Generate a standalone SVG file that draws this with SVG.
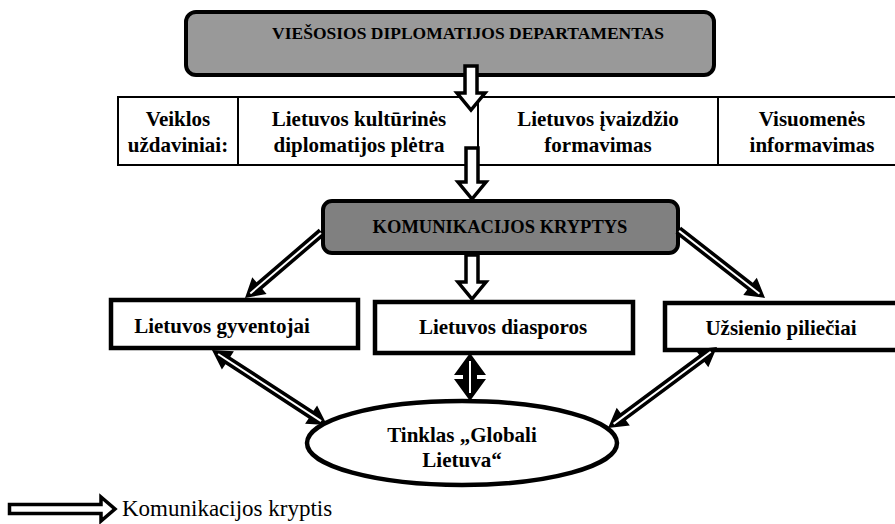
<svg xmlns="http://www.w3.org/2000/svg" width="895" height="524" viewBox="0 0 895 524">
<style>
.t{font-family:"Liberation Serif","Times New Roman",serif;font-weight:bold;font-size:21px;fill:#000;text-anchor:middle}
.h{font-size:17.5px}
.k{font-size:18.5px}
.box{fill:#fff;stroke:#000;stroke-width:4.5}
.cell{fill:#fff;stroke:#000;stroke-width:2}
.hollow{fill:#fff;stroke:#000;stroke-width:3.5;stroke-linejoin:miter}
.solid{fill:#000}
.wl{stroke:#fff;stroke-width:2}
.leg{font-family:"Liberation Serif","Times New Roman",serif;font-size:23px;fill:#000}
</style>
<rect width="895" height="524" fill="#fff"/>
<g id="dept">
<rect x="186" y="12" width="528" height="63" rx="10" fill="#999" stroke="#000" stroke-width="4"/>
<text class="t h" x="468" y="39">VIEŠOSIOS DIPLOMATIJOS DEPARTAMENTAS</text>
</g>
<g id="task-label">
<rect class="cell" x="118" y="97" width="120" height="68"/>
<text class="t" x="178" y="126">Veiklos</text>
<text class="t" x="178" y="152">uždaviniai:</text>
</g>
<g id="task-culture">
<rect class="cell" x="238" y="97" width="240" height="68"/>
<text class="t" x="359" y="126">Lietuvos kultūrinės</text>
<text class="t" x="359" y="152">diplomatijos plėtra</text>
</g>
<g id="task-image">
<rect class="cell" x="478" y="97" width="240" height="68"/>
<text class="t" x="598" y="126">Lietuvos įvaizdžio</text>
<text class="t" x="598" y="152">formavimas</text>
</g>
<g id="task-info">
<rect class="cell" x="718" y="97" width="190" height="68"/>
<text class="t" x="812" y="126">Visuomenės</text>
<text class="t" x="812" y="152">informavimas</text>
</g>
<g id="kryptys">
<rect x="323" y="201" width="355" height="52" rx="9" fill="#808080" stroke="#000" stroke-width="4"/>
<text class="t k" x="500" y="233">KOMUNIKACIJOS KRYPTYS</text>
</g>
<g id="gyventojai">
<rect class="box" x="111" y="300" width="247" height="48"/>
<text class="t" x="222" y="333">Lietuvos gyventojai</text>
</g>
<g id="diasporos">
<rect class="box" x="375" y="302" width="258" height="51"/>
<text class="t" x="503" y="334">Lietuvos diasporos</text>
</g>
<g id="piliečiai">
<rect class="box" x="665" y="303" width="240" height="47"/>
<text class="t" x="781" y="335">Užsienio piliečiai</text>
</g>
<g id="globali">
<ellipse cx="462" cy="443" rx="155" ry="42" fill="#fff" stroke="#000" stroke-width="4.5"/>
<text class="t" x="462" y="442">Tinklas „Globali</text>
<text class="t" x="462" y="467">Lietuva“</text>
</g>
<g id="connectors">
<polygon class="hollow" points="465,66 477,66 477,93 485,93 471,110 457,93 465,93"/>
<polygon class="hollow" points="466,148 478,148 478,182 486,182 472,199 458,182 466,182"/>
<polygon class="hollow" points="466,255 478,255 478,282 486,282 472,299 458,282 466,282"/>
<g transform="translate(245,298) rotate(139.4)">
<polygon class="solid" points="-101,-4.5 -19,-4.5 -19,-11 0,0 -19,11 -19,4.5 -101,4.5"/>
<line class="wl" x1="-100" y1="0" x2="-7" y2="0"/>
</g>
<g transform="translate(765,298) rotate(38)">
<polygon class="solid" points="-110,-4.5 -19,-4.5 -19,-11 0,0 -19,11 -19,4.5 -110,4.5"/>
<line class="wl" x1="-109" y1="0" x2="-7" y2="0"/>
</g>
<g transform="translate(327,425) rotate(33.1)">
<polygon class="solid" points="0,0 -19,-11 -19,-4.5 -118.3,-4.5 -118.3,-11 -137.3,0 -118.3,11 -118.3,4.5 -19,4.5 -19,11"/>
<line class="wl" x1="-130" y1="0" x2="-7" y2="0"/>
</g>
<g transform="translate(608,428) rotate(143.4)">
<polygon class="solid" points="0,0 -19,-11 -19,-4.5 -116.8,-4.5 -116.8,-11 -135.8,0 -116.8,11 -116.8,4.5 -19,4.5 -19,11"/>
<line class="wl" x1="-128" y1="0" x2="-7" y2="0"/>
</g>
<polygon class="solid" points="470,353 486,375 477,375 477,379 486,379 470,401 454,379 463,379 463,375 454,375"/>
<line class="wl" x1="470" y1="361" x2="470" y2="393" stroke-width="3"/>
</g>
<g id="legend">
<polygon class="hollow" points="9.5,504.5 101,504.5 101,497 115,509 101,521 101,513.5 9.5,513.5"/>
<text class="leg" x="122" y="516">Komunikacijos kryptis</text>
</g>
</svg>
